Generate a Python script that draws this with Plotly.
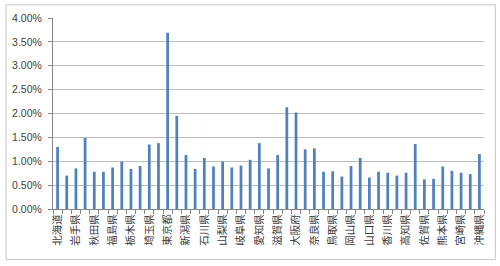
import plotly.graph_objects as go

prefectures = ["北海道", "青森県", "岩手県", "宮城県", "秋田県", "山形県", "福島県", "茨城県",
               "栃木県", "群馬県", "埼玉県", "千葉県", "東京都", "神奈川県", "新潟県", "富山県",
               "石川県", "福井県", "山梨県", "長野県", "岐阜県", "静岡県", "愛知県", "三重県",
               "滋賀県", "京都府", "大阪府", "兵庫県", "奈良県", "和歌山県", "鳥取県", "島根県",
               "岡山県", "広島県", "山口県", "徳島県", "香川県", "愛媛県", "高知県", "福岡県",
               "佐賀県", "長崎県", "熊本県", "大分県", "宮崎県", "鹿児島県", "沖縄県"]

values = [1.30, 0.70, 0.85, 1.49, 0.78, 0.78, 0.87, 0.99,
          0.84, 0.90, 1.35, 1.38, 3.69, 1.95, 1.13, 0.84,
          1.07, 0.89, 0.99, 0.87, 0.91, 1.03, 1.38, 0.85,
          1.13, 2.13, 2.02, 1.25, 1.27, 0.78, 0.79, 0.68,
          0.90, 1.07, 0.66, 0.78, 0.76, 0.70, 0.76, 1.36,
          0.62, 0.63, 0.89, 0.80, 0.76, 0.73, 1.15]

y_ticks = [0.0, 0.005, 0.01, 0.015, 0.02, 0.025, 0.03, 0.035, 0.04]

shown_text = [p if i % 2 == 0 else "" for i, p in enumerate(prefectures)]

fig = go.Figure()
fig.add_trace(go.Bar(
    x=prefectures,
    y=[v / 100 for v in values],
    marker=dict(color="#4f81bd", line=dict(width=0)),
))

L, R, T, B = 48, 16, 14, 57
W, H = 500, 266
pw = W - L - R
ph = H - T - B

def px_x(p):
    return (p - L) / pw

def px_y(p):
    return (H - B - p) / ph

fig.add_shape(type="rect", xref="paper", yref="paper",
              x0=px_x(0.5), x1=px_x(495.5), y0=px_y(260.5), y1=px_y(0.5),
              line=dict(color="#c6c6c6", width=1), fillcolor="rgba(0,0,0,0)",
              layer="below")

fig.update_layout(
    width=W, height=H,
    margin=dict(l=L, r=R, t=T, b=B, pad=0),
    paper_bgcolor="white", plot_bgcolor="white",
    bargap=0.7,
    showlegend=False,
    font=dict(family="Noto Sans CJK JP, Liberation Sans, sans-serif", color="#404040"),
)
fig.update_xaxes(
    type="category",
    tickmode="array",
    tickvals=prefectures,
    ticktext=shown_text,
    tickangle=-90,
    tickson="boundaries",
    ticks="outside", ticklen=4, tickcolor="#868686",
    showline=True, linecolor="#868686", linewidth=1,
    showgrid=False,
    tickfont=dict(size=10.5, family="Noto Sans CJK JP", color="#404040"),
)
fig.update_yaxes(
    range=[0, 0.04],
    tickmode="array",
    tickvals=y_ticks,
    tickformat=".2%",
    ticks="outside", ticklen=4, tickcolor="#868686",
    showline=True, linecolor="#868686", linewidth=1,
    showgrid=True, gridcolor="#bdbdbd", gridwidth=1,
    zeroline=False,
    ticklabelstandoff=4,
    tickfont=dict(size=10.5, family="Liberation Sans", color="#404040"),
)

fig.write_html("out.html")
